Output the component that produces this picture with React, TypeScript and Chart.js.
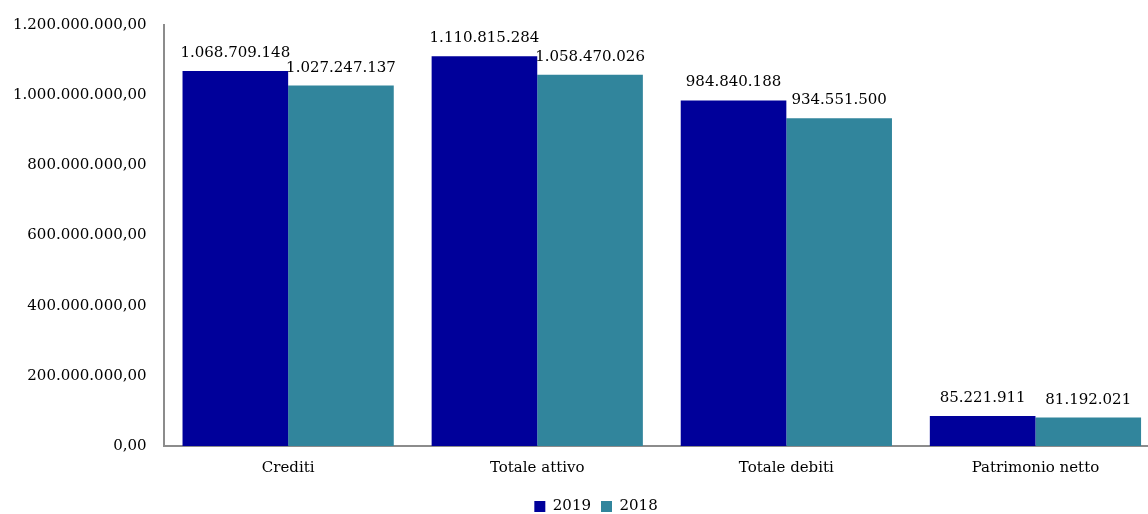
import React, { useEffect, useRef } from "react";
import { Chart, registerables } from "chart.js";

Chart.register(...registerables);

const categories = ["Crediti", "Totale attivo", "Totale debiti", "Patrimonio netto"];
const values2019 = [1068709148, 1110815284, 984840188, 85221911];
const values2018 = [1027247137, 1058470026, 934551500, 81192021];
const seriesNames = ["2019", "2018"];

const FONT = "'DejaVu Serif', serif";

function groupThousands(intStr: string): string {
  return intStr.replace(/\B(?=(\d{3})+(?!\d))/g, ".");
}
function fmtInt(v: number): string {
  return groupThousands(Math.round(v).toString());
}
function fmtAxis(v: number): string {
  return groupThousands(Math.round(v).toString()) + ",00";
}

const labelPlugin = {
  id: "barLabels",
  afterLayout(chart: any) {
    if (chart.legend) {
      chart.legend.left += 14;
      chart.legend.right += 14;
    }
  },
  afterDatasetsDraw(chart: any) {
    const ctx = chart.ctx;
    ctx.save();
    ctx.font = `15px ${FONT}`;
    ctx.fillStyle = "#000000";
    ctx.textAlign = "center";
    ctx.textBaseline = "alphabetic";
    chart.data.datasets.forEach((ds: any, di: number) => {
      const meta = chart.getDatasetMeta(di);
      meta.data.forEach((el: any, i: number) => {
        ctx.fillText(fmtInt(ds.data[i]), el.x, el.y - 14);
      });
    });
    ctx.restore();
  },
};

export default function App() {
  const ref = useRef<HTMLCanvasElement | null>(null);
  useEffect(() => {
    if (!ref.current) return;
    const chart = new Chart(ref.current, {
      type: "bar",
      data: {
        labels: categories,
        datasets: [
          {
            label: seriesNames[0],
            data: values2019,
            backgroundColor: "#00009A",
            borderWidth: 0,
            categoryPercentage: 0.848,
            barPercentage: 1,
          },
          {
            label: seriesNames[1],
            data: values2018,
            backgroundColor: "#31859C",
            borderWidth: 0,
            categoryPercentage: 0.848,
            barPercentage: 1,
          },
        ],
      },
      options: {
        animation: false,
        responsive: true,
        maintainAspectRatio: false,
        layout: { padding: { left: 0, right: 44, top: 25, bottom: 0 } },
        plugins: {
          tooltip: { enabled: false },
          legend: {
            position: "bottom",
            labels: {
              font: { family: FONT, size: 15 },
              color: "#000000",
              boxWidth: 11,
              boxHeight: 11,
              padding: 10,
            },
          },
        },
        scales: {
          x: {
            grid: { display: false },
            border: { display: true, color: "#8c8c8c", width: 2 },
            ticks: { font: { family: FONT, size: 15 }, color: "#000000", padding: 5 },
            afterFit: (scale: any) => {
              scale.height += 7;
            },
          },
          y: {
            min: 0,
            max: 1200000000,
            grid: { display: false },
            border: { display: true, color: "#8c8c8c", width: 2 },
            ticks: {
              stepSize: 200000000,
              font: { family: FONT, size: 15 },
              color: "#000000",
              padding: 9,
              callback: (v: any) => fmtAxis(Number(v)),
            },
          },
        },
      },
      plugins: [labelPlugin],
    });
    return () => chart.destroy();
  }, []);

  return (
    <div style={{ position: "fixed", left: 0, top: 0, width: 1148, height: 514, overflow: "hidden", background: "#fff" }}>
      <div style={{ position: "absolute", left: 4, top: 0, width: 1200, height: 524 }}>
        <canvas ref={ref} />
      </div>
    </div>
  );
}
